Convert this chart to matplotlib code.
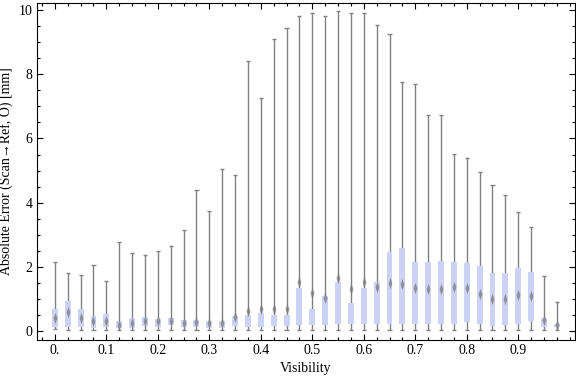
import numpy as np
from matplotlib import pyplot as plt
from matplotlib.ticker import MultipleLocator

# visibility bins, 0.025 apart
vis = np.arange(40) * 0.025

# whisker top (max) per bin
w_hi = [2.15, 1.8, 1.75, 2.05, 1.55, 2.78, 2.43, 2.37, 2.5, 2.65,
        3.15, 4.4, 3.75, 5.06, 4.87, 8.4, 7.27, 9.1, 9.45, 9.8,
        9.92, 9.8, 9.98, 9.9, 9.9, 9.52, 9.24, 7.77, 7.7, 6.74,
        6.74, 5.53, 5.4, 4.97, 4.56, 4.25, 3.72, 3.25, 1.7, 0.9]
# whisker bottom (min)
w_lo = [0.05, 0.03, 0.03, 0.03, 0.03, 0.03, 0.03, 0.03, 0.03, 0.03,
        0.03, 0.03, 0.03, 0.03, 0.03, 0.03, 0.03, 0.03, 0.03, 0.03,
        0.03, 0.03, 0.03, 0.03, 0.03, 0.03, 0.03, 0.03, 0.03, 0.03,
        0.03, 0.03, 0.03, 0.03, 0.03, 0.03, 0.03, 0.03, 0.03, 0.03]
# box quartiles
q1 = [0.12, 0.12, 0.12, 0.1, 0.12, 0.1, 0.1, 0.17, 0.13, 0.19,
      0.14, 0.14, 0.1, 0.1, 0.16, 0.14, 0.14, 0.17, 0.15, 0.2,
      0.2, 0.2, 0.23, 0.23, 0.23, 0.23, 0.23, 0.23, 0.23, 0.23,
      0.23, 0.23, 0.27, 0.23, 0.17, 0.2, 0.23, 0.32, 0.13, 0.13]
q3 = [0.68, 0.93, 0.68, 0.47, 0.52, 0.31, 0.4, 0.44, 0.38, 0.4,
      0.34, 0.36, 0.32, 0.32, 0.47, 0.5, 0.55, 0.5, 0.5, 1.34,
      0.68, 1.09, 1.53, 0.87, 1.34, 1.53, 2.47, 2.6, 2.16, 2.16,
      2.19, 2.16, 2.11, 2.03, 1.8, 1.8, 1.97, 1.84, 0.41, 0.23]
median = [0.4, 0.6, 0.4, 0.3, 0.3, 0.2, 0.25, 0.3, 0.3, 0.3,
          0.25, 0.28, 0.25, 0.25, 0.45, 0.63, 0.68, 0.68, 0.68, 1.52,
          1.18, 1.04, 1.65, 1.3, 1.54, 1.38, 1.51, 1.46, 1.35, 1.3,
          1.3, 1.38, 1.33, 1.16, 0.99, 1.0, 1.12, 1.1, 0.33, 0.18]

xticks = [0.0, 0.1, 0.2, 0.3, 0.4, 0.5, 0.6, 0.7, 0.8, 0.9]
xlabels = ['0.', '0.1', '0.2', '0.3', '0.4', '0.5', '0.6', '0.7', '0.8', '0.9']
yticks = [0, 2, 4, 6, 8, 10]

plt.rcParams['font.family'] = ['Liberation Serif', 'DejaVu Serif']

fig = plt.figure(figsize=(5.76, 3.77), dpi=100)
ax = fig.add_axes([0.064, 0.098, 0.934, 0.894])

bw = 0.0115
cap = 0.004
gray = '#808080'

# whiskers with caps
ax.vlines(vis, w_lo, w_hi, color=gray, lw=1.0, zorder=1)
ax.hlines(w_hi, vis - cap, vis + cap, color=gray, lw=1.0, zorder=1)
ax.hlines(w_lo, vis - cap, vis + cap, color=gray, lw=1.0, zorder=1)

# boxes
heights = np.array(q3) - np.array(q1)
ax.bar(vis, heights, width=bw, bottom=q1, color='#cbd2f5', edgecolor='none', zorder=2)

# median marks: thin vertical diamond
diamond = [(-0.35, 0), (0, 1), (0.35, 0), (0, -1), (-0.35, 0)]
ax.plot(vis, median, linestyle='none', marker=diamond, markersize=8,
        markerfacecolor='#7a7a7a', markeredgecolor='none', alpha=0.75, zorder=3)

ax.set_xlim(-0.035, 1.01)
ax.set_ylim(-0.28, 10.22)

ax.set_xticks(xticks)
ax.set_xticklabels(xlabels)
ax.set_yticks(yticks)
ax.xaxis.set_minor_locator(MultipleLocator(0.025))
ax.yaxis.set_minor_locator(MultipleLocator(0.5))
ax.tick_params(which='both', direction='in', top=True, right=True,
               labelsize=10, colors='black', width=0.8)
ax.tick_params(which='major', length=4, pad=3)
ax.tick_params(which='minor', length=2.5)
for s in ax.spines.values():
    s.set_linewidth(0.8)

ax.set_xlabel('Visibility', fontsize=10)
ax.set_ylabel('Absolute Error (Scan\u2192Ref, O) [mm]', fontsize=10)
ax.xaxis.set_label_coords(0.5, -0.083)
ax.yaxis.set_label_coords(-0.058, 0.5)
ax.xaxis.label.set_va('center')
ax.yaxis.label.set_va('center')

fig.savefig('out.png', dpi=100)
